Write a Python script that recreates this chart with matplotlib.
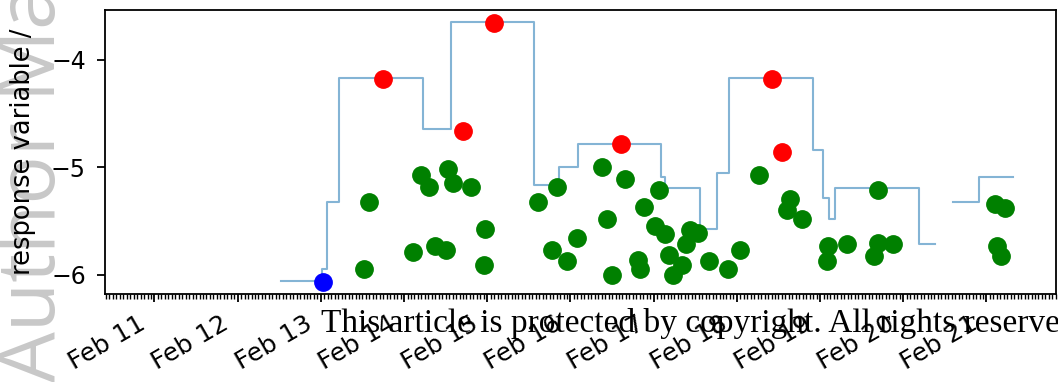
import numpy as np
import matplotlib.pyplot as plt
import matplotlib.dates as mdates
import matplotlib.transforms as mtransforms
from matplotlib.ticker import MultipleLocator

# step line: change times and levels (nan = gap)
step_times = ["2021-02-12 12:30", "2021-02-13 00:14", "2021-02-13 01:41", "2021-02-13 05:14",
              "2021-02-14 05:32", "2021-02-14 13:32", "2021-02-15 13:33", "2021-02-15 20:46",
              "2021-02-16 02:15", "2021-02-17 02:15", "2021-02-17 03:24", "2021-02-17 13:21",
              "2021-02-17 18:10", "2021-02-17 21:52", "2021-02-18 21:57", "2021-02-19 00:50",
              "2021-02-19 02:43", "2021-02-19 04:26", "2021-02-20 04:32", "2021-02-20 09:09",
              "2021-02-20 14:15", "2021-02-20 21:50", "2021-02-21 07:38"]
step_vals = [-6.056, -5.944, -5.318, -4.170, -4.642, -3.644, -5.163, -4.993,
             -4.777, -5.093, -5.195, -5.572, -5.054, -4.170, -4.837, -5.284,
             -5.481, -5.195, -5.712, np.nan, -5.321, -5.091, -5.091]

# green observations
green_times = ["2021-02-13 12:25", "2021-02-13 13:58", "2021-02-14 02:39", "2021-02-14 04:52",
               "2021-02-14 07:11", "2021-02-14 08:54", "2021-02-14 12:05", "2021-02-14 12:45",
               "2021-02-14 14:15", "2021-02-14 19:18", "2021-02-14 23:20", "2021-02-14 23:11",
               "2021-02-15 14:46", "2021-02-15 18:35", "2021-02-15 20:15", "2021-02-15 23:05",
               "2021-02-16 01:48", "2021-02-16 09:05", "2021-02-16 10:37", "2021-02-16 11:53",
               "2021-02-16 15:43", "2021-02-16 19:33", "2021-02-16 20:02", "2021-02-16 21:12",
               "2021-02-17 00:31", "2021-02-17 01:37", "2021-02-17 03:16", "2021-02-17 04:25",
               "2021-02-17 05:28", "2021-02-17 08:05", "2021-02-17 09:24", "2021-02-17 10:33",
               "2021-02-17 12:52", "2021-02-17 16:02", "2021-02-17 21:31", "2021-02-18 00:53",
               "2021-02-18 06:27", "2021-02-18 15:14", "2021-02-18 14:27", "2021-02-18 18:41",
               "2021-02-19 02:17", "2021-02-19 01:54", "2021-02-19 07:54", "2021-02-19 16:48",
               "2021-02-19 16:39", "2021-02-19 15:36", "2021-02-19 21:07", "2021-02-21 02:27",
               "2021-02-21 05:20", "2021-02-21 03:05", "2021-02-21 04:11"]
green_vals = [-5.944, -5.318, -5.783, -5.067, -5.179, -5.730, -5.767, -5.014,
              -5.141, -5.179, -5.572, -5.910, -5.318, -5.767, -5.179, -5.874,
              -5.656, -4.995, -5.479, -6.000, -5.107, -5.860, -5.942, -5.370,
              -5.547, -5.207, -5.620, -5.814, -6.000, -5.910, -5.709, -5.581,
              -5.605, -5.873, -5.946, -5.767, -5.067, -5.290, -5.395, -5.481,
              -5.728, -5.874, -5.714, -5.209, -5.707, -5.826, -5.713, -5.337,
              -5.377, -5.728, -5.823]

# red observations
red_times = ["2021-02-13 17:50", "2021-02-14 17:05", "2021-02-15 02:01",
             "2021-02-16 14:34", "2021-02-18 10:12", "2021-02-18 13:06"]
red_vals = [-4.177, -4.658, -3.659, -4.781, -4.177, -4.856]

# blue (first) observation
blue_times = ["2021-02-13 00:41"]
blue_vals = [-6.068]

xlim = ["2021-02-10 09:43", "2021-02-21 20:02"]
ylim = (-6.177, -3.535)

def dt(a):
    return np.array(a, dtype="datetime64[m]")

fig = plt.figure(figsize=(10.58, 3.82), dpi=100)
ax = fig.add_axes([0.0992, 0.2304, 0.8988, 0.7434])

ax.step(dt(step_times), step_vals, where="post", color="C0", alpha=0.55, lw=1.5)
ax.plot(dt(green_times), green_vals, "o", color="green", ms=12.5)
ax.plot(dt(red_times), red_vals, "o", color="red", ms=12.5)
ax.plot(dt(blue_times), blue_vals, "o", color="blue", ms=12.5)

ax.set_xlim(dt(xlim))
ax.set_ylim(*ylim)
ax.yaxis.set_major_locator(MultipleLocator(1))
ax.xaxis.set_major_locator(mdates.DayLocator())
ax.xaxis.set_minor_locator(mdates.HourLocator())
ax.xaxis.set_major_formatter(mdates.DateFormatter("%b %d"))

ax.tick_params(which="major", length=5.8, width=1.3)
ax.tick_params(axis="y", pad=8, labelsize=17)
ax.tick_params(axis="x", pad=7, labelsize=18)
ax.tick_params(which="minor", length=3.3, width=1.0)
shift = mtransforms.ScaledTranslation(-0.05, 0, fig.dpi_scale_trans)
for lab in ax.get_xticklabels():
    lab.set_rotation(30)
    lab.set_ha("right")
    lab.set_transform(lab.get_transform() + shift)
for s in ax.spines.values():
    s.set_linewidth(1.3)

ax.set_ylabel("response variable /", fontsize=18.5, labelpad=11)

# overlays from the source page
fig.text(0.032, 0.0, "Author Manuscript", rotation=90, color="#c8c8c8",
         fontsize=58, family="Open Sans", ha="center", va="bottom", zorder=-1)
fig.text(0.303, 0.131, "This article is protected by copyright. All rights reserved",
         family="Liberation Serif", fontsize=24, color="black", va="baseline")

fig.savefig("out.png", dpi=100)
